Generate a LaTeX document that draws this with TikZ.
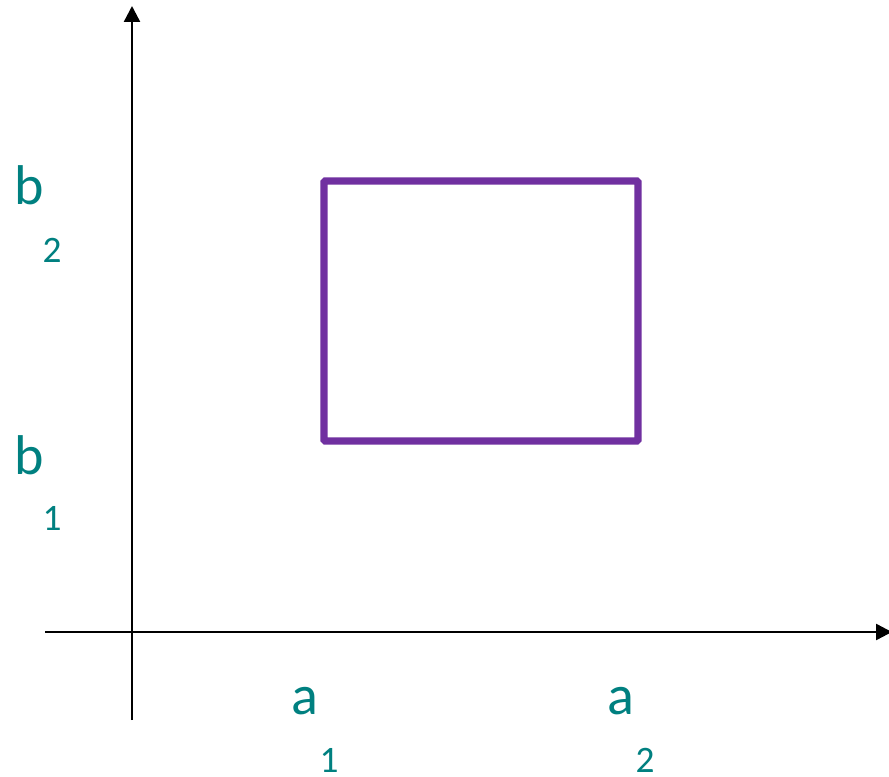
\documentclass[tikz,border=0pt]{standalone}
\usepackage{fontspec}
\setmainfont{Carlito}
\usetikzlibrary{arrows.meta}
\definecolor{teal}{HTML}{008080}
\definecolor{rectpurple}{HTML}{7030A0}
\begin{document}
\begin{tikzpicture}[x=0.75pt,y=-0.75pt,
  axis/.style={line width=1.8pt,-{Triangle[length=12pt,width=12pt]}},
  letter/.style={text=teal,inner sep=0pt,font=\fontsize{42}{42}\selectfont},
  idx/.style={text=teal,inner sep=0pt,font=\fontsize{28}{28}\selectfont},
  boxline/.style={draw=rectpurple,line width=5.4pt,rounded corners=1pt}]
\useasboundingbox (0,0) rectangle (889,777);
\coordinate (ybot) at (132,720);
\coordinate (ytop) at (132,6);
\coordinate (xleft) at (45,632);
\coordinate (xright) at (892,632);
\draw[axis] (ybot) -- (ytop);
\draw[axis] (xleft) -- (xright);
\draw[boxline] (324,181) rectangle (638,441);
\node[letter] (b2) at (29,185) {b};
\node[idx] (b2i) at (52,250) {2};
\node[letter] (b1) at (29,455) {b};
\node[idx] (b1i) at (52,518) {1};
\node[letter] (a1) at (305,701) {a};
\node[idx] (a1i) at (329,760) {1};
\node[letter] (a2) at (621,701) {a};
\node[idx] (a2i) at (645,760) {2};
\end{tikzpicture}
\end{document}
